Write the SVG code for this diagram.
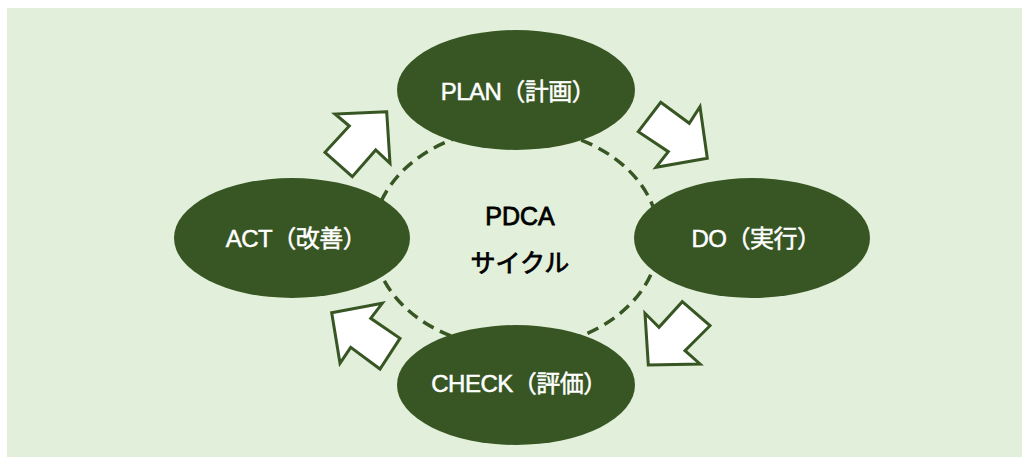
<svg xmlns="http://www.w3.org/2000/svg" width="1030" height="462" viewBox="0 0 1030 462">
<style>
.node{fill:#375623}
.lbl{font-family:"Liberation Sans","Noto Sans CJK JP",sans-serif;font-size:24px;fill:#ffffff;stroke:#ffffff;stroke-width:0.5;text-anchor:middle;letter-spacing:-0.5px}
.ctr{font-family:"Liberation Sans","Noto Sans CJK JP",sans-serif;font-size:25px;fill:#000000;stroke:#000000;stroke-width:0.8;text-anchor:middle}
.arr{fill:#ffffff;stroke:#375623;stroke-width:3;stroke-linejoin:miter}
</style>
<rect x="7" y="8" width="1015" height="449" fill="#E2EFDA"/>
<g id="connectors">
<ellipse cx="516" cy="238" rx="143" ry="110" fill="none" stroke="#375623" stroke-width="3.5" stroke-dasharray="12 7"/>
<polygon class="arr" points="386.7,111.7 335,114 349.3,126 325,152.3 352.3,176.7 375.7,150 390,163.3"/>
<polygon class="arr" points="660.7,102.3 689.3,123.3 700,106.7 707.3,158.3 656,167.3 668.3,151.7 638.3,131.7"/>
<polygon class="arr" points="682.3,301.7 710,325.7 685,350.7 700,364 648.3,365 645,313.3 659,327.3"/>
<polygon class="arr" points="331.7,312.7 382.3,303.3 370.7,318.3 400,338.3 380,369 350.7,347.3 340,363.3"/>
</g>
<g id="center">
<text class="ctr" x="520" y="225">PDCA</text>
<text class="ctr" x="520" y="272">サイクル</text>
</g>
<g id="plan">
<ellipse class="node" cx="516" cy="90" rx="119" ry="60"/>
<text class="lbl" x="518" y="100">PLAN（計画）</text>
</g>
<g id="do">
<ellipse class="node" cx="752" cy="238" rx="118" ry="60"/>
<text class="lbl" x="756" y="247">DO（実行）</text>
</g>
<g id="check">
<ellipse class="node" cx="516" cy="385" rx="119" ry="60"/>
<text class="lbl" x="519" y="392">CHECK（評価）</text>
</g>
<g id="act">
<ellipse class="node" cx="292" cy="238" rx="118" ry="60"/>
<text class="lbl" x="296" y="247">ACT（改善）</text>
</g>
</svg>
